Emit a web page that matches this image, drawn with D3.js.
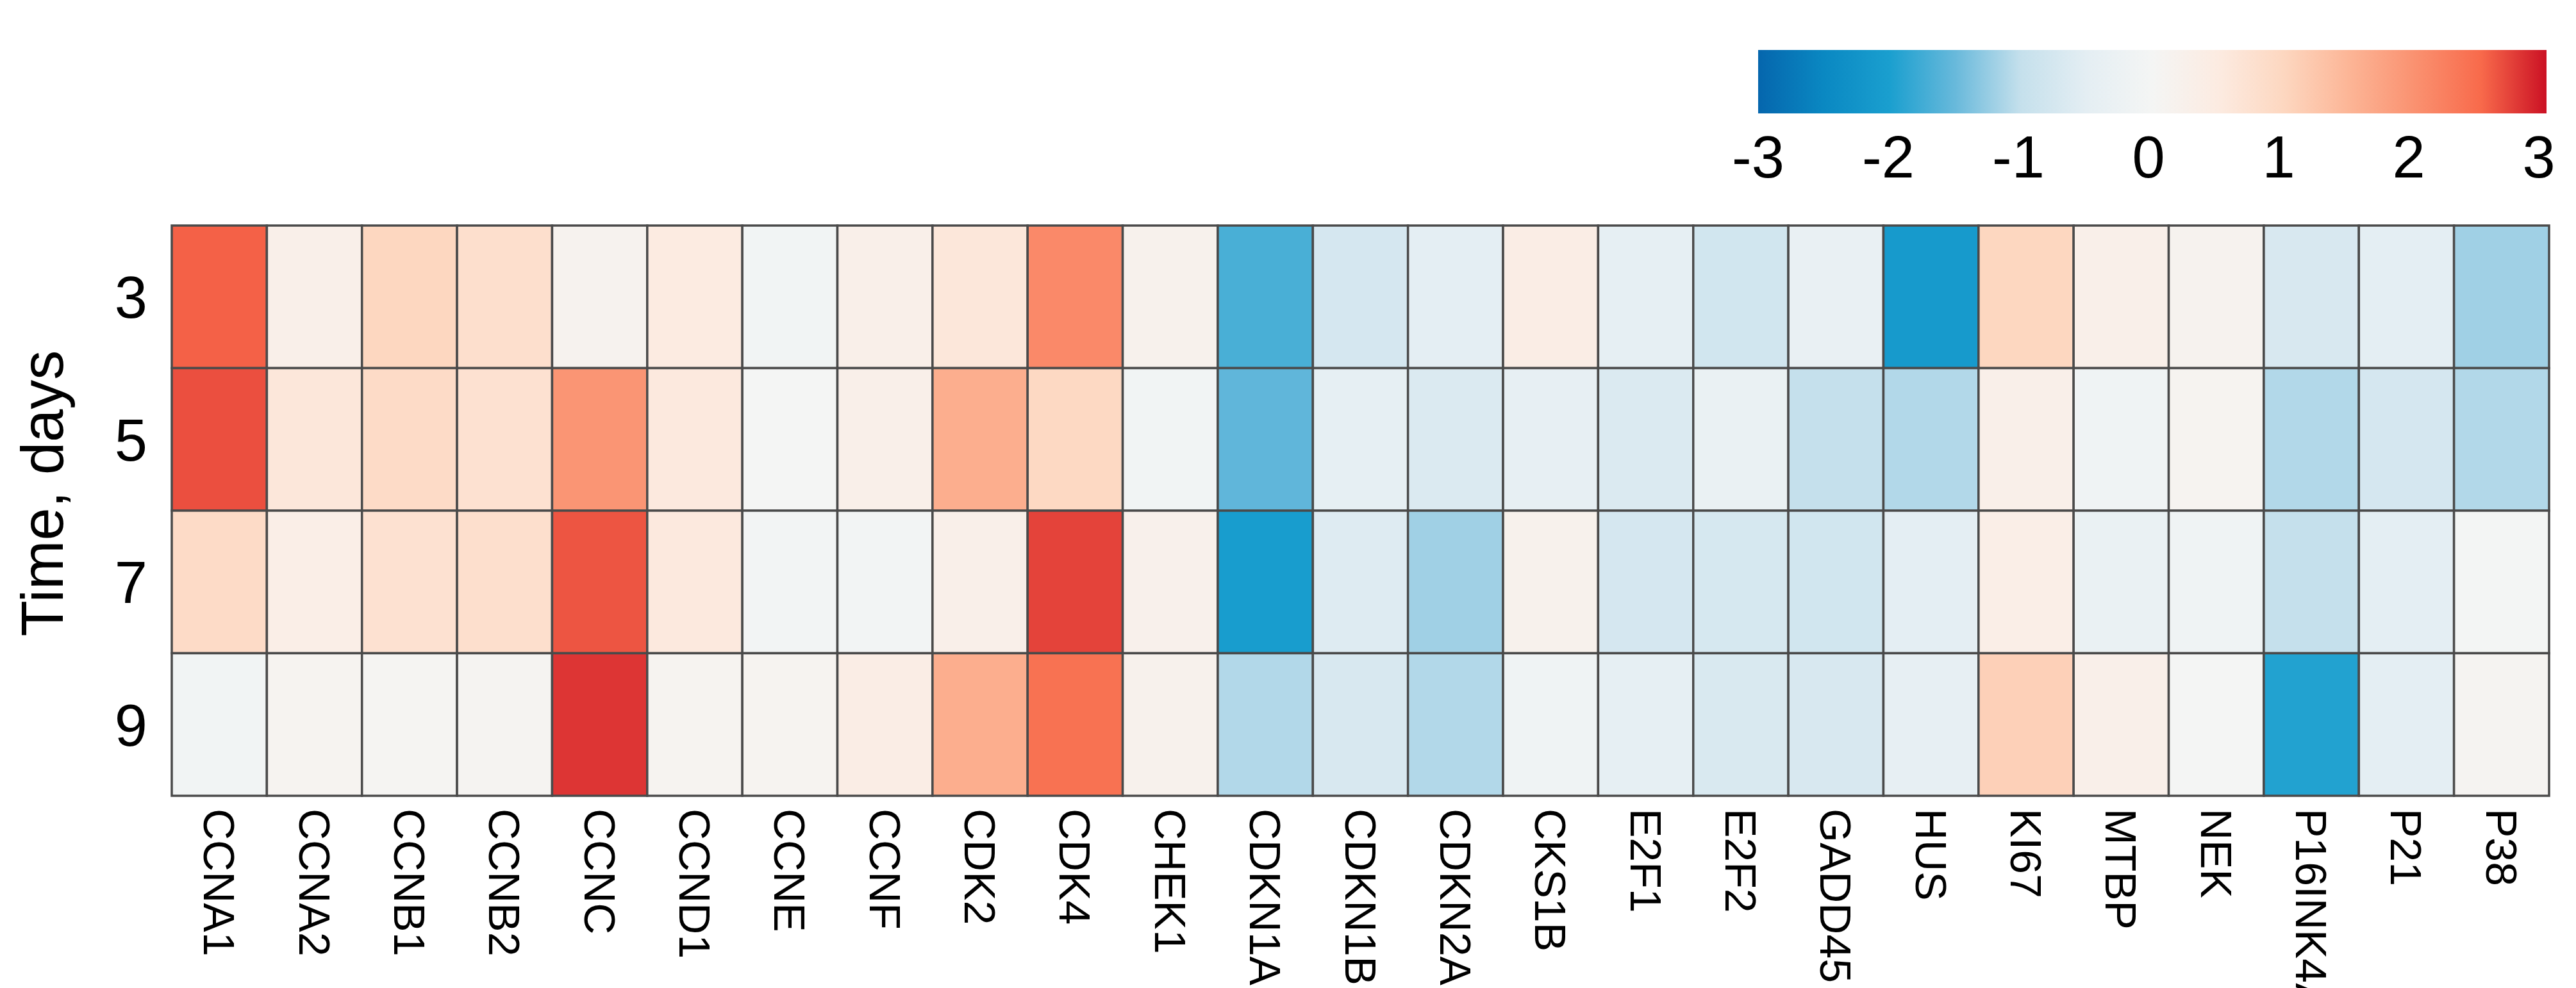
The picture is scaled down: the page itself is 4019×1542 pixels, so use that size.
<!DOCTYPE html>
<html>
<head>
<meta charset="utf-8">
<script src="https://cdn.jsdelivr.net/npm/d3@7"></script>
<style>
  html, body { margin: 0; padding: 0; background: #ffffff; }
  svg { display: block; }
  text { font-family: "Liberation Sans", Arial, sans-serif; fill: #000; }
</style>
</head>
<body>
<svg id="chart" width="4019" height="1542"></svg>
<script>
// ---- data ----
const genes = ["CCNA1","CCNA2","CCNB1","CCNB2","CCNC","CCND1","CCNE","CCNF","CDK2","CDK4",
               "CHEK1","CDKN1A","CDKN1B","CDKN2A","CKS1B","E2F1","E2F2","GADD45","HUS","KI67",
               "MTBP","NEK","P16INK4A","P21","P38"];
const days = ["3","5","7","9"];
const day3 = [2.55, 0.3, 1.0, 0.8, 0.15, 0.5, -0.1, 0.3, 0.6, 2.1,
              0.2, -1.7, -0.75, -0.5, 0.4, -0.45, -0.8, -0.35, -2.1, 1.0,
              0.3, 0.15, -0.7, -0.5, -1.2];
const day5 = [2.65, 0.6, 0.9, 0.75, 1.95, 0.55, 0.0, 0.3, 1.6, 0.95,
              -0.1, -1.55, -0.45, -0.65, -0.4, -0.65, -0.3, -1.0, -1.1, 0.3,
              -0.15, 0.1, -1.1, -0.75, -1.1];
const day7 = [0.9, 0.35, 0.75, 0.8, 2.62, 0.55, -0.05, -0.05, 0.3, 2.72,
              0.25, -2.05, -0.6, -1.2, 0.2, -0.75, -0.72, -0.8, -0.5, 0.35,
              -0.3, -0.15, -1.0, -0.5, -0.02];
const day9 = [-0.1, 0.1, 0.05, 0.08, 2.8, 0.1, 0.1, 0.4, 1.6, 2.4,
              0.2, -1.1, -0.7, -1.1, -0.15, -0.45, -0.68, -0.7, -0.4, 1.1,
              0.3, 0.0, -1.95, -0.5, 0.08];
const legendTicks = [-3, -2, -1, 0, 1, 2, 3];
const colorStops = [-3, -2.5, -2, -1.5, -1, -0.5, 0, 0.5, 1, 1.5, 2, 2.5, 3];
const colorValues = ["#0566ad","#0a88c2","#1a9fcf","#68b9db","#c5e0ec","#e4eef3","#f4f5f4",
                     "#fcebe1","#fdd7c0","#fcb596","#fa9170","#f86a4b","#cb1124"];
const yTitle = "Time, days";

// ---- layout ----
const svg = d3.select("#chart");
const grid = { left: 268, right: 3977, top: 352, bottom: 1242 };
const bar = { left: 2743, right: 3973, top: 78, bottom: 177 };

const x = d3.scaleBand().domain(genes).range([grid.left, grid.right]).padding(0);
const y = d3.scaleBand().domain(days).range([grid.top, grid.bottom]).padding(0);
const color = d3.scaleLinear().domain(colorStops).range(colorValues)
  .interpolate(d3.interpolateRgb).clamp(true);

const rows = [day3, day5, day7, day9];
const cells = [];
rows.forEach((vals, r) => vals.forEach((v, c) => cells.push({ day: days[r], gene: genes[c], v })));

// ---- heatmap cells ----
svg.append("g").selectAll("rect").data(cells).join("rect")
  .attr("x", d => x(d.gene))
  .attr("y", d => y(d.day))
  .attr("width", x.bandwidth())
  .attr("height", y.bandwidth())
  .attr("fill", d => color(d.v))
  .attr("stroke", "#4a4a4a")
  .attr("stroke-width", 3.5);

// ---- row labels ----
svg.append("g").selectAll("text").data(days).join("text")
  .attr("x", 230)
  .attr("y", d => y(d) + y.bandwidth() / 2 + 33)
  .attr("text-anchor", "end")
  .attr("font-size", 92)
  .text(d => d);

// ---- y title ----
svg.append("text")
  .attr("transform", `translate(98, ${(grid.top + grid.bottom) / 2 - 27}) rotate(-90)`)
  .attr("text-anchor", "middle")
  .attr("font-size", 92)
  .text(yTitle);

// ---- column labels ----
svg.append("g").selectAll("text").data(genes).join("text")
  .attr("transform", d => `translate(${x(d) + x.bandwidth() / 2}, ${grid.bottom + 20}) rotate(90)`)
  .attr("text-anchor", "start")
  .attr("dominant-baseline", "central")
  .attr("font-size", 68)
  .text(d => d);

// ---- color bar ----
const defs = svg.append("defs");
const grad = defs.append("linearGradient").attr("id", "cbar")
  .attr("x1", "0%").attr("x2", "100%").attr("y1", "0%").attr("y2", "0%");
grad.selectAll("stop").data(colorStops).join("stop")
  .attr("offset", d => ((d + 3) / 6 * 100) + "%")
  .attr("stop-color", d => color(d));
svg.append("rect")
  .attr("x", bar.left).attr("y", bar.top)
  .attr("width", bar.right - bar.left).attr("height", bar.bottom - bar.top)
  .attr("fill", "url(#cbar)");

const lx = d3.scaleLinear().domain([-3, 3]).range([bar.left, bar.right - 12]);
svg.append("g").selectAll("text").data(legendTicks).join("text")
  .attr("x", d => lx(d))
  .attr("y", 277)
  .attr("text-anchor", "middle")
  .attr("font-size", 92)
  .text(d => d < 0 ? "-" + Math.abs(d) : String(d));
</script>
</body>
</html>
